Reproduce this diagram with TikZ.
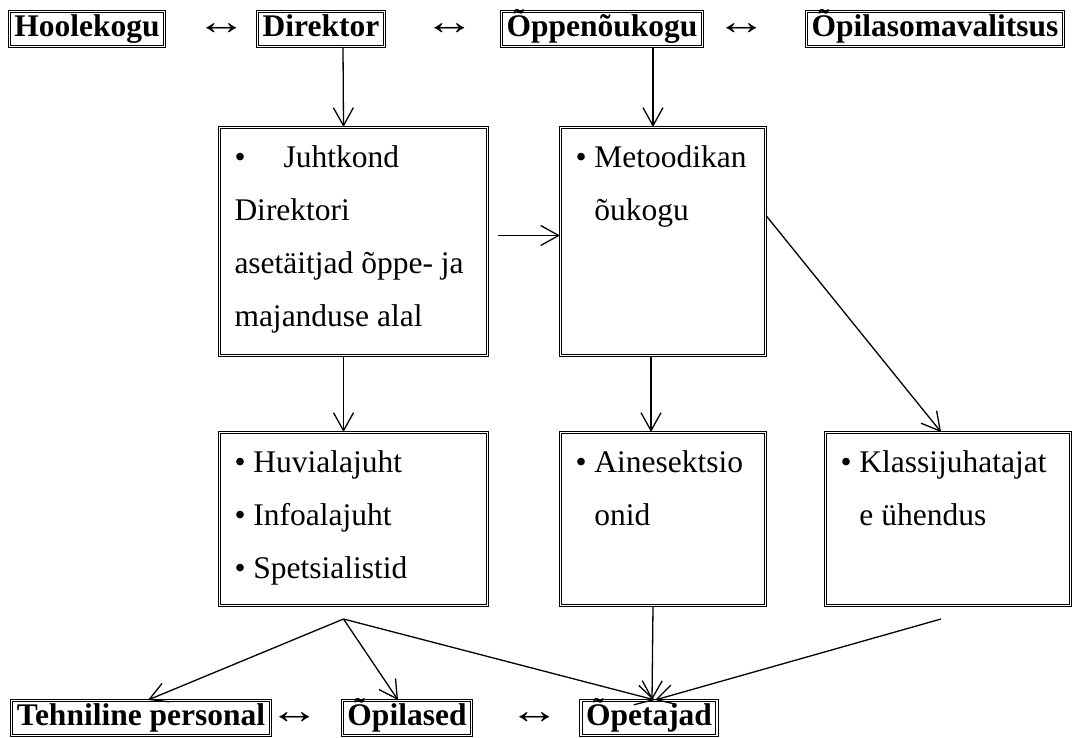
\documentclass[tikz,border=0pt]{standalone}
\usepackage{fontspec}
\setmainfont{Liberation Serif}
\usetikzlibrary{positioning,arrows.meta}
\newcommand\bodyfont{\fontsize{31.5}{53}\selectfont}
\newcommand\twoway{\scalebox{1.6}[1.2]{↔}}
\tikzset{
  head/.style={draw, double, line width=1pt, double distance=1.1pt, font=\bodyfont\bfseries, inner xsep=5pt, inner ysep=3pt, text height=22pt, text depth=7pt},
  card/.style={draw, double, line width=1pt, double distance=1.1pt, anchor=north west, inner xsep=15pt, inner ysep=18pt, align=left},
  rel/.style={font=\bodyfont, inner sep=0pt},
  link/.style={-{Straight Barb[length=18pt,width=20pt]}, line width=1.3pt}
}

\begin{document}
\begin{tikzpicture}[x=1pt, y=-1pt, font=\bodyfont]
  \useasboundingbox (0,0) rectangle (1073,738);

  % top row
  \node[head] (hoole) at (87,29) {Hoolekogu};
  \node[rel] (r1) at (222,29) {\twoway};
  \node[head] (dir) at (321,29) {Direktor};
  \node[rel] (r2) at (450,29) {\twoway};
  \node[head] (oppe) at (602,29) {Õppenõukogu};
  \node[rel] (r3) at (742,29) {\twoway};
  \node[head] (opsv) at (935,29) {Õpilasomavalitsus};

  % middle boxes
  \node[card] (juht) at (219,127) {%
    \begin{minipage}[t][192pt][t]{238pt}\raggedright
      •\hspace{38pt}Juhtkond\\
      Direktori\\
      asetäitjad õppe- ja\\
      majanduse alal
    \end{minipage}%
  };
  \node[card] (metood) at (560,127) {%
    \begin{minipage}[t][192pt][t]{175pt}\raggedright
      • Metoodikan\\
      \phantom{• }õukogu
    \end{minipage}%
  };

  % lower boxes
  \node[card] (huvi) at (219,432) {%
    \begin{minipage}[t][137pt][t]{238pt}\raggedright
      • Huvialajuht\\
      • Infoalajuht\\
      • Spetsialistid
    \end{minipage}%
  };
  \node[card] (aine) at (560,432) {%
    \begin{minipage}[t][137pt][t]{175pt}\raggedright
      • Ainesektsio\\
      \phantom{• }onid
    \end{minipage}%
  };
  \node[card] (klassi) at (825,432) {%
    \begin{minipage}[t][137pt][t]{215pt}\raggedright
      • Klassijuhatajat\\
      \phantom{• }e ühendus
    \end{minipage}%
  };

  % bottom row
  \node[head] (tehn) at (141,718) {Tehniline personal};
  \node[rel] (r4) at (295,718) {\twoway};
  \node[head] (opil) at (407,718) {Õpilased};
  \node[rel] (r5) at (535,718) {\twoway};
  \node[head] (opet) at (649,718) {Õpetajad};

  \coordinate (hfan) at ([xshift=-10pt,yshift=-13pt]huvi.south);
  \coordinate (kfan) at ([xshift=-7pt,yshift=-13pt]klassi.south);

  % connectors
  \draw[link] ([xshift=22pt]dir.south) -- ([xshift=-10pt]juht.north);
  \draw[link] ([xshift=51pt]oppe.south) -- ([xshift=-10pt]metood.north);
  \draw[link] ([xshift=10pt,yshift=6pt]juht.east) -- ([yshift=6pt]metood.west);
  \draw[link] ([yshift=26pt]metood.east) -- ([xshift=-7pt]klassi.north);
  \draw[link] ([xshift=-10pt]juht.south) -- ([xshift=-10pt]huvi.north);
  \draw[link] ([xshift=-12pt]metood.south) -- ([xshift=-12pt]aine.north);
  \draw[link] (hfan) -- ([xshift=7pt]tehn.north);
  \draw[link] (hfan) -- ([xshift=-9pt]opil.north);
  \draw[link] (hfan) -- ([xshift=6pt]opet.north);
  \draw[link] ([xshift=-10pt]aine.south) -- ([xshift=3pt]opet.north);
  \draw[link] (kfan) -- ([xshift=6pt]opet.north);
\end{tikzpicture}
\end{document}
